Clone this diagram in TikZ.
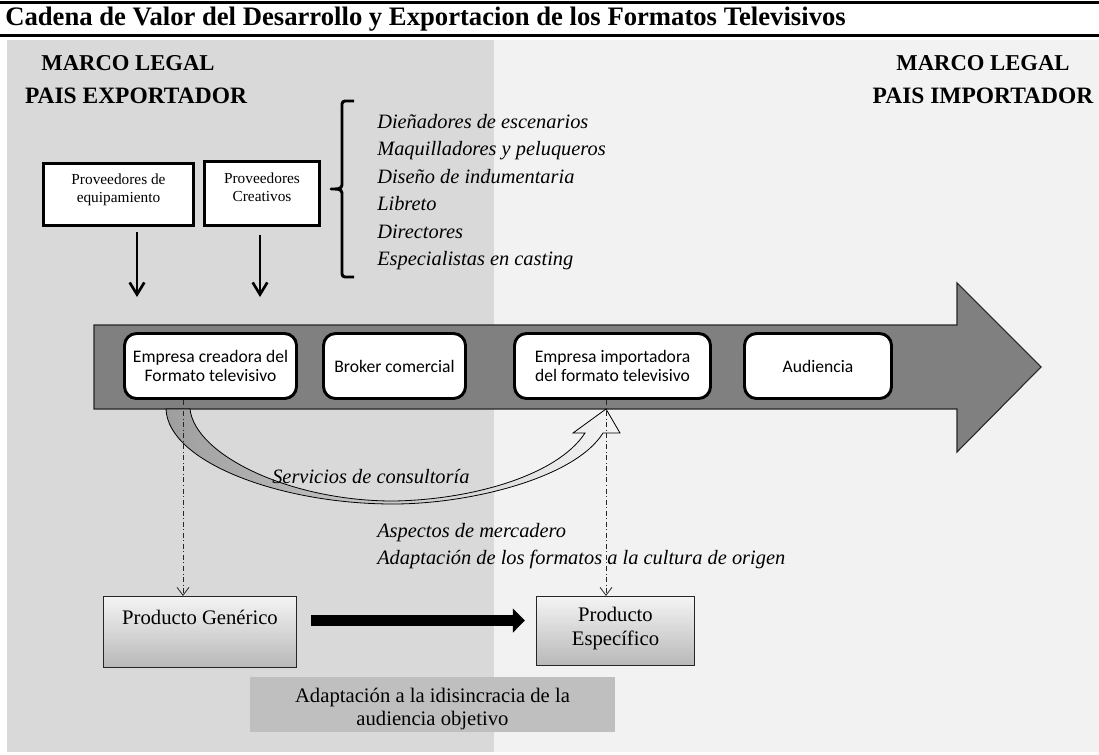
\documentclass[tikz,border=0pt]{standalone}
\usepackage{fontspec}
\setmainfont{Liberation Serif}
\newfontfamily\carlito{Carlito}
\usetikzlibrary{arrows.meta,calc}
\definecolor{leftbg}{HTML}{D9D9D9}
\definecolor{rightbg}{HTML}{F2F2F2}
\definecolor{chaingray}{HTML}{808080}
\definecolor{adaptgray}{HTML}{BFBFBF}
\definecolor{prodtop}{HTML}{F4F4F4}
\definecolor{prodbot}{HTML}{B8B8B8}
\begin{document}
\begin{tikzpicture}[x=0.75pt,y=-0.75pt,
  rule/.style={line width=2.2pt},
  legal/.style={font=\bfseries\fontsize{17}{18}\selectfont, anchor=base, inner sep=0pt},
  legalwide/.style={font=\bfseries\fontsize{17.6}{20}\selectfont, anchor=base, inner sep=0pt},
  provbox/.style={draw=black, line width=2pt, fill=white, inner sep=0pt},
  provtext/.style={font=\fontsize{11.5}{13.5}\selectfont, align=center, inner sep=0pt},
  downarr/.style={line width=2pt, -{Straight Barb[length=9pt,width=11pt,line width=2pt]}},
  listitem/.style={font=\itshape\fontsize{15.3}{18}\selectfont, anchor=base west, inner sep=0pt},
  chainbox/.style={draw=black, line width=2.2pt, fill=white, rounded corners=9pt,
    font=\carlito\fontsize{13.2}{14.4}\selectfont, align=center, inner sep=0pt, minimum height=48.75pt},
  prodbox/.style={draw=black!85, line width=0.8pt, top color=prodtop, bottom color=prodbot, inner sep=0pt},
  prodtext/.style={font=\fontsize{15.5}{17.5}\selectfont, align=center, inner sep=0pt},
  note/.style={font=\itshape\fontsize{15.3}{18}\selectfont, anchor=base west, inner sep=0pt},
  dasharr/.style={draw=black!85, line width=0.6pt, dash pattern=on 3.75pt off 1.9pt on 0.75pt off 1.9pt,
    -{Straight Barb[length=6pt,width=9pt,line width=0.6pt]}},
  bigarr/.style={line width=8.25pt, -{Triangle[length=9pt,width=17.5pt]}}
]
\useasboundingbox (0,0) rectangle (1099,754);
\fill[white] (0,0) rectangle (1099,754);
% background regions
\fill[leftbg] (7,40) rectangle (494,752);
\fill[rightbg] (494,40) rectangle (1099,752);
% title and rules
\draw[rule] (0,2.5) -- (1099,2.5);
\draw[rule] (0,35.5) -- (1099,35.5);
\node[anchor=base west, inner sep=0pt, font=\bfseries\fontsize{20}{22}\selectfont] (title) at (5,25)
  {Cadena de Valor del Desarrollo y Exportacion de los Formatos Televisivos};
% legal frames
\node[legal] (mlx) at (128,70) {MARCO LEGAL};
\node[legalwide] (pex) at (136,103) {PAIS EXPORTADOR};
\node[legal] (mli) at (983,70) {MARCO LEGAL};
\node[legalwide] (pim) at (983,103) {PAIS IMPORTADOR};
% suppliers
\node[provbox, minimum width=112.5pt, minimum height=46.5pt] (eq) at (118.5,194.5) {};
\node[provtext] (eqt) at (118.5,190) {Proveedores de\\equipamiento};
\node[provbox, minimum width=86.25pt, minimum height=48pt] (cr) at (262,193.5) {};
\node[provtext] (crt) at (262,187.5) {Proveedores\\Creativos};
\coordinate (a1) at (137,297);
\coordinate (a2) at (260,297);
\draw[downarr] ($(eq.south -| a1)+(0,5)$) -- (a1);
\draw[downarr] ($(cr.south -| a2)+(0,8)$) -- (a2);
% brace
\draw[line width=2.2pt, line join=round] (354,101) -- (345,101) to[out=180,in=90] (342,104) -- (342,185)
  to[out=-90,in=0] (331,189) to[out=0,in=90] (342,193) -- (342,274) to[out=-90,in=180] (345,277) -- (354,277);
\node[listitem] (l1) at (377,128) {Dieñadores de escenarios};
\node[listitem] (l2) at (377,155.5) {Maquilladores y peluqueros};
\node[listitem] (l3) at (377,183) {Diseño de indumentaria};
\node[listitem] (l4) at (377,210.5) {Libreto};
\node[listitem] (l5) at (377,238) {Directores};
\node[listitem] (l6) at (377,265) {Especialistas en casting};
% main value chain arrow
\draw[fill=chaingray, draw=black!85, line width=0.8pt] (94,325) -- (957,325) -- (957,283) -- (1041,367)
  -- (957,452) -- (957,409) -- (94,409) -- cycle;
\node[chainbox, minimum width=129pt] (ec) at (210.5,366) {Empresa creadora del\\Formato televisivo};
\node[chainbox, minimum width=106.5pt] (br) at (394.5,366) {Broker comercial};
\node[chainbox, minimum width=147pt] (imp) at (612.5,366) {Empresa importadora\\del formato televisivo};
\node[chainbox, minimum width=110.25pt] (aud) at (818,366) {Audiencia};
% curved consulting arrow
\path[draw=black, line width=0.6pt, left color=black!38, right color=black!4, line join=miter]
  (166,409) .. controls (168,462) and (280,504) .. (393,504)
  .. controls (470,504) and (575,478) .. (603,433) -- (620,433) -- (606,409) -- (573,433) -- (585,433)
  .. controls (557,476) and (470,500) .. (393,501)
  .. controls (290,501) and (195,455) .. (190,409) -- cycle;
\node[note] (serv) at (272,483) {Servicios de consultoría};
\node[note] (asp) at (377,537) {Aspectos de mercadero};
\node[note] (adc) at (377,564) {Adaptación de los formatos a la cultura de origen};
% products
\node[prodbox, minimum width=144.75pt, minimum height=53.25pt] (gen) at (200,632) {};
\node[prodtext] (gent) at (200,617) {Producto Genérico};
\node[prodbox, minimum width=118.5pt, minimum height=51.75pt] (esp) at (615.5,631) {};
\node[prodtext] (espt) at (615.5,628.5) {Producto\\Específico};
\coordinate (d1) at (183,0);
\coordinate (d2) at (606,0);
\draw[dasharr] (ec.south -| d1) -- (gen.north -| d1);
\draw[dasharr] (imp.south -| d2) -- (esp.north -| d2);
\draw[bigarr] ($(gen.east)+(14,-11.5)$) -- ($(esp.west)+(-11,-10.5)$);
\node[fill=adaptgray, minimum width=273.75pt, minimum height=41.25pt, inner sep=0pt] (adap) at (432.5,704.5) {};
\node[prodtext] (adapt) at (432.5,709) {Adaptación a la idisincracia de la\\audiencia objetivo};
\end{tikzpicture}
\end{document}
